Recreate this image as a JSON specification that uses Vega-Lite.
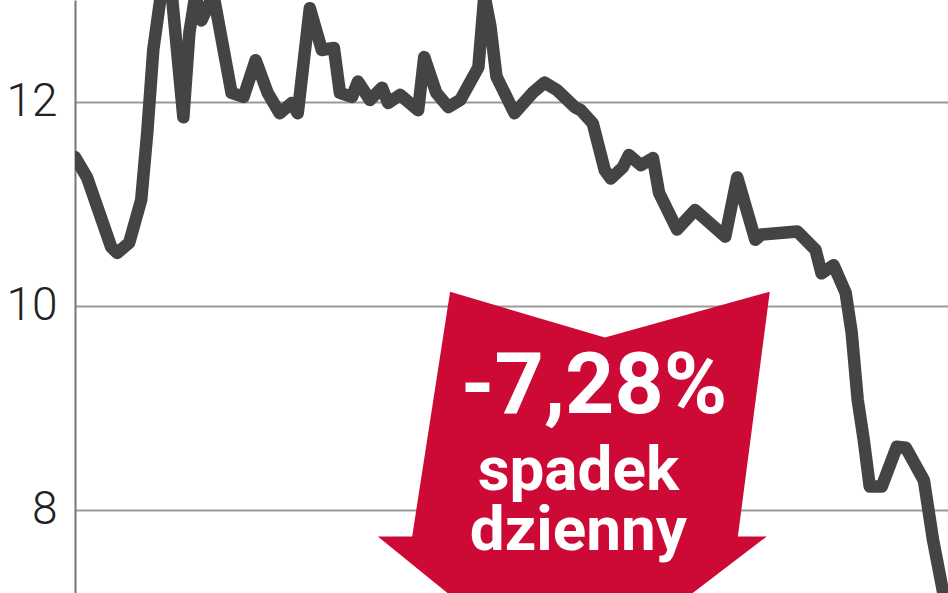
{
  "$schema": "https://vega.github.io/schema/vega-lite/v6.json",
  "width": 873,
  "height": 593,
  "autosize": "none",
  "padding": {"left": 75, "top": 0, "right": 0, "bottom": 0},
  "background": "white",
  "config": {
    "view": {"stroke": null},
    "font": "Roboto"
  },
  "datasets": {
    "kurs": [
      {"dzien": 0, "kurs": 11.46}, {"dzien": 2, "kurs": 11.26}, {"dzien": 6, "kurs": 10.58},
      {"dzien": 7, "kurs": 10.52}, {"dzien": 9, "kurs": 10.62}, {"dzien": 11, "kurs": 11.04},
      {"dzien": 12, "kurs": 11.7}, {"dzien": 13, "kurs": 12.51}, {"dzien": 14.5, "kurs": 13.15},
      {"dzien": 16, "kurs": 13.1}, {"dzien": 18, "kurs": 11.85}, {"dzien": 19, "kurs": 12.68},
      {"dzien": 20, "kurs": 13.05}, {"dzien": 21, "kurs": 12.8}, {"dzien": 23, "kurs": 13.05},
      {"dzien": 26, "kurs": 12.09}, {"dzien": 28, "kurs": 12.05}, {"dzien": 30, "kurs": 12.41},
      {"dzien": 32, "kurs": 12.09}, {"dzien": 34, "kurs": 11.89}, {"dzien": 36, "kurs": 11.99},
      {"dzien": 37, "kurs": 11.89}, {"dzien": 39, "kurs": 12.92}, {"dzien": 41, "kurs": 12.51},
      {"dzien": 43, "kurs": 12.53}, {"dzien": 44, "kurs": 12.09}, {"dzien": 46, "kurs": 12.05},
      {"dzien": 47, "kurs": 12.2}, {"dzien": 49, "kurs": 12.02}, {"dzien": 51, "kurs": 12.14},
      {"dzien": 52, "kurs": 11.99}, {"dzien": 54, "kurs": 12.07}, {"dzien": 57, "kurs": 11.92},
      {"dzien": 58, "kurs": 12.44}, {"dzien": 60, "kurs": 12.09}, {"dzien": 62, "kurs": 11.95},
      {"dzien": 64, "kurs": 12.02}, {"dzien": 67, "kurs": 12.34}, {"dzien": 68, "kurs": 13.05},
      {"dzien": 69, "kurs": 12.74}, {"dzien": 70, "kurs": 12.25}, {"dzien": 73, "kurs": 11.89},
      {"dzien": 76, "kurs": 12.09}, {"dzien": 78, "kurs": 12.19}, {"dzien": 80, "kurs": 12.12},
      {"dzien": 83, "kurs": 11.95}, {"dzien": 84, "kurs": 11.92}, {"dzien": 86, "kurs": 11.79},
      {"dzien": 88, "kurs": 11.33}, {"dzien": 89, "kurs": 11.25}, {"dzien": 91, "kurs": 11.36},
      {"dzien": 92, "kurs": 11.48}, {"dzien": 94, "kurs": 11.38}, {"dzien": 96, "kurs": 11.45},
      {"dzien": 97, "kurs": 11.11}, {"dzien": 100, "kurs": 10.75}, {"dzien": 103, "kurs": 10.94},
      {"dzien": 108, "kurs": 10.68}, {"dzien": 110, "kurs": 11.26}, {"dzien": 113, "kurs": 10.65},
      {"dzien": 114, "kurs": 10.7}, {"dzien": 118, "kurs": 10.72}, {"dzien": 120, "kurs": 10.73},
      {"dzien": 123, "kurs": 10.55}, {"dzien": 124, "kurs": 10.32}, {"dzien": 126, "kurs": 10.4},
      {"dzien": 128, "kurs": 10.13}, {"dzien": 129, "kurs": 9.74}, {"dzien": 130, "kurs": 9.08},
      {"dzien": 131, "kurs": 8.69}, {"dzien": 132, "kurs": 8.23}, {"dzien": 134, "kurs": 8.23},
      {"dzien": 136.5, "kurs": 8.62}, {"dzien": 138, "kurs": 8.61}, {"dzien": 141, "kurs": 8.29},
      {"dzien": 142.5, "kurs": 7.71}, {"dzien": 144.5, "kurs": 7.1}
    ],
    "strzalka": [
      {"n": 1, "dzien": 62.3, "kurs": 10.14},
      {"n": 2, "dzien": 88.0, "kurs": 9.69},
      {"n": 3, "dzien": 115.4, "kurs": 10.14},
      {"n": 4, "dzien": 110.1, "kurs": 7.74},
      {"n": 5, "dzien": 114.9, "kurs": 7.74},
      {"n": 6, "dzien": 81.6, "kurs": 6.24},
      {"n": 7, "dzien": 50.3, "kurs": 7.74},
      {"n": 8, "dzien": 56.0, "kurs": 7.74},
      {"n": 9, "dzien": 62.3, "kurs": 10.14}
    ]
  },
  "encoding": {
    "x": {"field": "dzien", "type": "quantitative", "scale": {"domain": [0, 145], "nice": false, "zero": false}, "axis": null},
    "y": {
      "field": "kurs", "type": "quantitative",
      "scale": {"domain": [7.186, 13], "nice": false, "zero": false},
      "axis": {
        "title": null, "values": [8, 10, 12], "ticks": false,
        "labelFont": "Roboto", "labelFontWeight": 300, "labelFontSize": 46, "labelColor": "#222",
        "labelPadding": 18, "labelBaseline": "middle",
        "grid": true, "gridColor": "#9a9a9a", "gridWidth": 2,
        "domainColor": "#777", "domainWidth": 2
      }
    }
  },
  "layer": [
    {
      "data": {"name": "strzalka"},
      "mark": {"type": "line", "fill": "#cc0a35", "stroke": null, "clip": true},
      "encoding": {"order": {"field": "n", "type": "quantitative"}}
    },
    {
      "data": {"values": [{"dzien": 86.2, "kurs": 8.95, "tekst": "-7,28%"}]},
      "mark": {"type": "text", "font": "Roboto", "fontWeight": "bold", "fontSize": 86, "color": "white", "align": "center", "baseline": "alphabetic"},
      "encoding": {"text": {"field": "tekst"}}
    },
    {
      "data": {"values": [
        {"dzien": 83.6, "kurs": 8.2, "tekst": ["spadek", "dzienny"]}
      ]},
      "mark": {"type": "text", "font": "Roboto", "fontWeight": "bold", "fontSize": 62, "lineHeight": 60, "color": "white", "align": "center", "baseline": "alphabetic"},
      "encoding": {"text": {"field": "tekst"}}
    },
    {
      "data": {"name": "kurs"},
      "mark": {"type": "line", "color": "#444444", "strokeWidth": 12.5, "strokeJoin": "round", "strokeCap": "round", "clip": true}
    }
  ]
}
